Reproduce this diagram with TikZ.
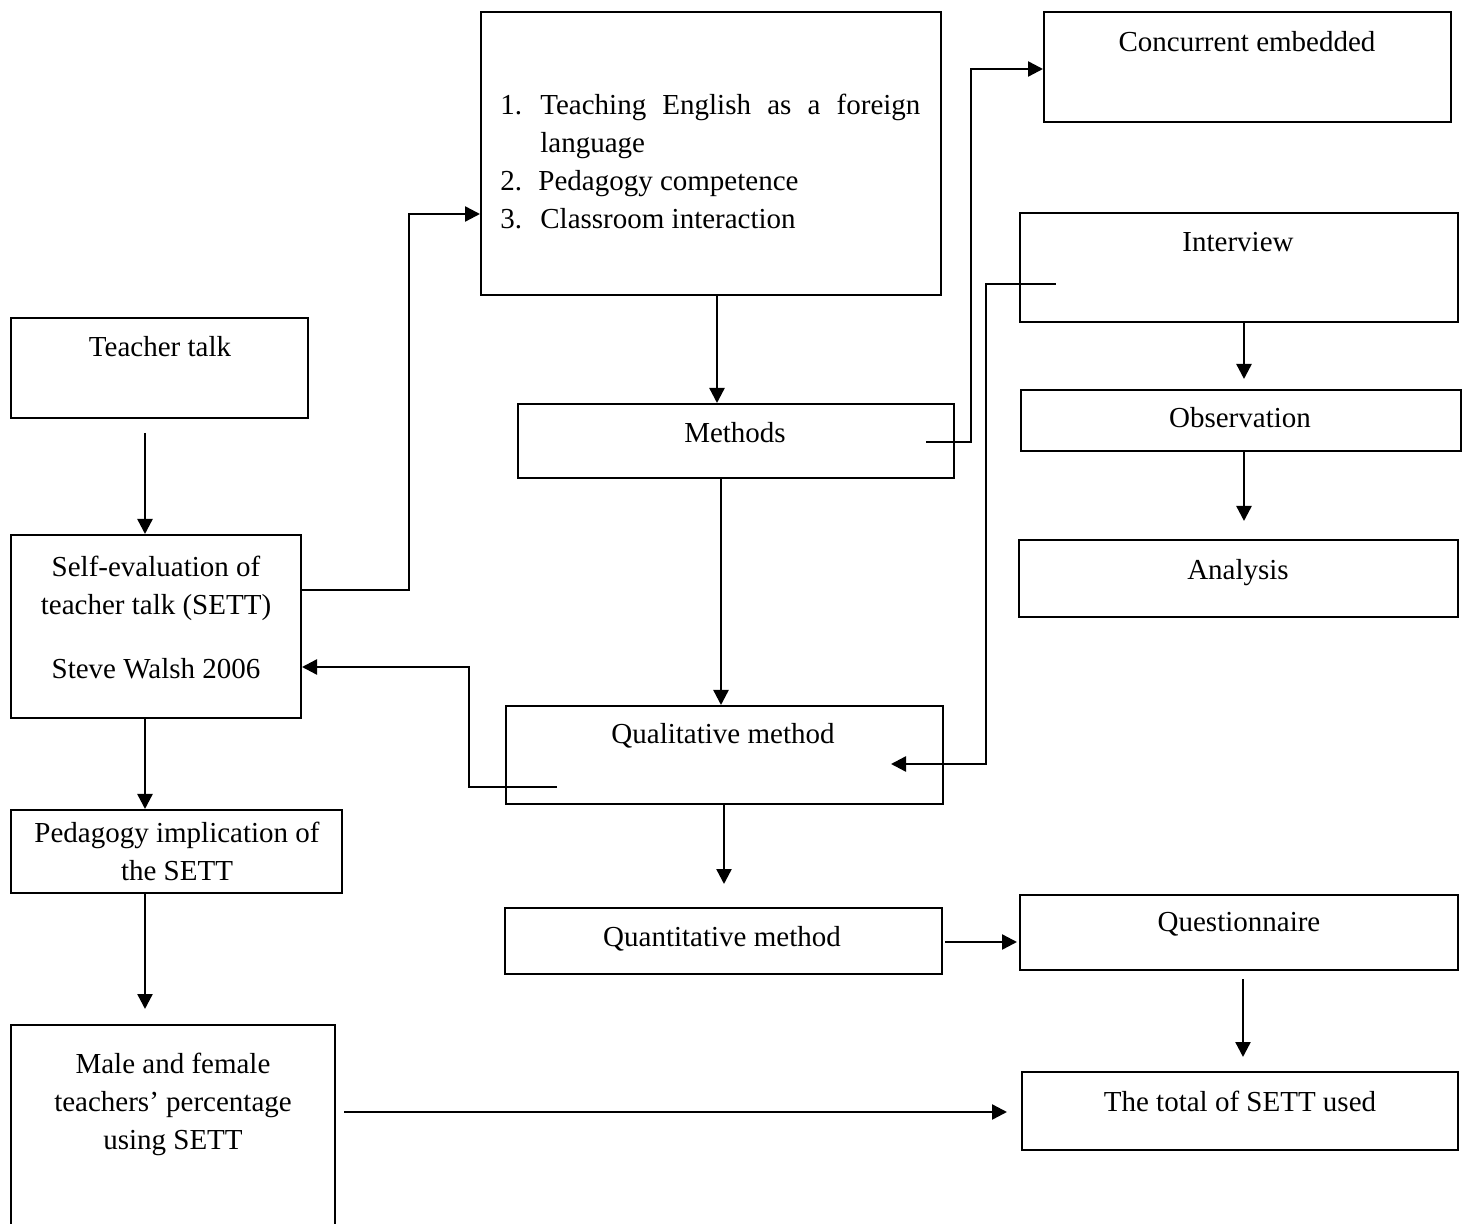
\documentclass[tikz,border=0pt]{standalone}
\usepackage{fontspec}
\setmainfont{Liberation Serif}
\usetikzlibrary{arrows.meta,calc,fit}
\begin{document}
\begin{tikzpicture}[x=0.5pt,y=-0.5pt,
    box/.style={draw,line width=1pt,inner sep=0pt},
    txt/.style={inner sep=0pt,anchor=base,align=center,font=\fontsize{14.5}{19}\selectfont},
    arrow/.style={line width=1.2pt,-{Triangle[length=7.5pt,width=7.5pt]}}]
  \useasboundingbox (0,0) rectangle (1468,1224);
  % left column
  \node[box,fit={(11,318) (308,418)}] (talk) {};
  \node[txt] (talktext) at (160,357) {Teacher talk};
  \node[box,fit={(11,535) (301,718)}] (sett) {};
  \node[txt] (setttext) at (156,679) {Self-evaluation of\\teacher talk (SETT)\\[13pt]Steve Walsh 2006};
  \node[box,fit={(11,810) (342,893)}] (impl) {};
  \node[txt] (impltext) at (177,880) {Pedagogy implication of\\the SETT};
  \node[box,fit={(11,1025) (335,1228)}] (gender) {};
  \node[txt] (gendertext) at (173,1149) {Male and female\\teachers' percentage\\using SETT};
  % middle column
  \node[box,fit={(481,12) (941,295)}] (topics) {};
  \node[txt,anchor=base west,text width=210pt,align=justify] (topicstext) at (500,115)
    {{\hangindent=20pt\hangafter=1\makebox[20pt][l]{1.}Teaching English as a foreign language\par}
     \makebox[19pt][l]{2.}Pedagogy competence\par
     \makebox[20pt][l]{3.}Classroom interaction};
  \node[box,fit={(518,404) (954,478)}] (methods) {};
  \node[txt] (methodstext) at (735,443) {Methods};
  \node[box,fit={(506,706) (943,804)}] (qual) {};
  \node[txt] (qualtext) at (723,744) {Qualitative method};
  \node[box,fit={(505,908) (942,974)}] (quant) {};
  \node[txt] (quanttext) at (722,946) {Quantitative method};
  % right column
  \node[box,fit={(1044,12) (1451,122)}] (embed) {};
  \node[txt] (embedtext) at (1247,52) {Concurrent embedded};
  \node[box,fit={(1020,213) (1458,322)}] (interview) {};
  \node[txt] (interviewtext) at (1238,252) {Interview};
  \node[box,fit={(1021,390) (1461,451)}] (observe) {};
  \node[txt] (observetext) at (1240,428) {Observation};
  \node[box,fit={(1019,540) (1458,617)}] (analysis) {};
  \node[txt] (analysistext) at (1238,580) {Analysis};
  \node[box,fit={(1020,895) (1458,970)}] (quest) {};
  \node[txt] (questtext) at (1239,931) {Questionnaire};
  \node[box,fit={(1022,1072) (1458,1150)}] (total) {};
  \node[txt] (totaltext) at (1240,1111) {The total of SETT used};
  % connectors
  \draw[arrow] ($(talk.south west)+(135,14)$) -- ($(sett.north west)+(135,0)$);
  \draw[arrow] ($(sett.north east)+(0,56)$) -- ++(107,0) |- ($(topics.north west)+(0,203)$);
  \draw[arrow] ($(qual.south west)+(52,-18)$) -- ++(-88,0) |- ($(sett.north east)+(0,133)$);
  \draw[arrow] ($(sett.south west)+(135,0)$) -- ($(impl.north west)+(135,0)$);
  \draw[arrow] ($(impl.south west)+(135,0)$) -- ($(gender.north west)+(135,-15)$);
  \draw[arrow] ($(gender.north east)+(8,88)$) -- ($(total.north west)+(-14,41)$);
  \draw[arrow] ($(topics.south west)+(237,0)$) -- ($(methods.north west)+(200,0)$);
  \draw[arrow] ($(methods.north east)+(-29,39)$) -- ++(45,0) |- ($(embed.north west)+(0,58)$);
  \draw[arrow] ($(methods.south west)+(204,0)$) -- ($(qual.north west)+(216,0)$);
  \draw[arrow,{Triangle[length=7.5pt,width=7.5pt]}-] ($(qual.north east)+(-53,59)$) -- ++(95,0) |- ($(interview.north west)+(37,72)$);
  \draw[arrow] ($(interview.south west)+(225,0)$) -- ($(observe.north west)+(224,-10)$);
  \draw[arrow] ($(observe.south west)+(224,0)$) -- ($(analysis.north west)+(226,-18)$);
  \draw[arrow] ($(qual.south west)+(219,0)$) -- ($(quant.north west)+(220,-23)$);
  \draw[arrow] ($(quant.north east)+(2,35)$) -- ($(quest.north west)+(-2,48)$);
  \draw[arrow] ($(quest.south west)+(224,8)$) -- ($(total.north west)+(222,-14)$);
\end{tikzpicture}
\end{document}
